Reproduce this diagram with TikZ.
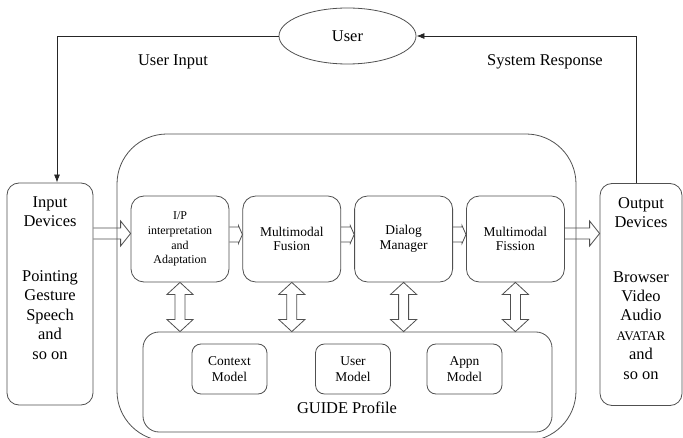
\documentclass[tikz,border=0pt]{standalone}
\usepackage{fontspec}
\setmainfont{Liberation Serif}
\newfontfamily\timesfont{Liberation Serif}
\usetikzlibrary{shapes.geometric,arrows.meta,calc,positioning}

\definecolor{linegray}{RGB}{80,80,80}

\tikzset{
  devbox/.style={draw=linegray, line width=0.8bp, rounded corners=12bp,
    minimum width=86bp, minimum height=222bp},
  devtext/.style={align=center, inner sep=0pt, font=\timesfont\fontsize{16.5}{19.5}\selectfont},
  procbox/.style={draw=linegray, line width=0.8bp, rounded corners=13bp,
    minimum width=98bp, minimum height=86bp, align=center,
    font=\timesfont\fontsize{13.5}{14.5}\selectfont},
  modelbox/.style={draw=linegray, line width=0.8bp, rounded corners=9bp,
    minimum width=75bp, minimum height=50bp, align=center,
    font=\timesfont\fontsize{13.5}{16}\selectfont},
  blockarrow/.style={draw=linegray, line width=0.8bp},
  feedback/.style={draw=black!85, line width=0.8bp, -{Latex[length=8bp,width=6bp]}},
  bigtext/.style={font=\timesfont\fontsize{16.5}{19.5}\selectfont}
}

% hollow arrow to the right: start, tip, shaft half width, head half width, head length
\newcommand{\rightblock}[5]{%
  \draw[blockarrow] let \p1=(#1), \p2=(#2) in
    (\x1,\y2+#3) -- (\x2-#5,\y2+#3) -- (\x2-#5,\y2+#4) -- (\x2,\y2)
    -- (\x2-#5,\y2-#4) -- (\x2-#5,\y2-#3) -- (\x1,\y2-#3);}

% hollow double arrow from box #1 down to box #2
\newcommand{\updownblock}[2]{%
  \draw[blockarrow] let \p1=(#1.south), \p2=(#1.south |- #2.north) in
    (\x1,\y1) -- (\x1+13bp,\y1-12bp) -- (\x1+5bp,\y1-12bp) -- (\x1+5bp,\y2+12bp)
    -- (\x1+13bp,\y2+12bp) -- (\x1,\y2) -- (\x1-13bp,\y2+12bp) -- (\x1-5bp,\y2+12bp)
    -- (\x1-5bp,\y1-12bp) -- (\x1-13bp,\y1-12bp) -- cycle;}

\begin{document}
\begin{tikzpicture}[x=1bp,y=-1bp]
\clip (0,0) rectangle (683,438);

% user and the loop
\node[ellipse, draw=linegray, line width=0.8bp, minimum width=137bp, minimum height=56bp, bigtext] (user) at (347.5,36) {User};
\node[bigtext] (inlabel) at (173,62) {User Input};
\node[bigtext] (outlabel) at (545,62) {System Response};

% devices
\node[devbox] (input) at (50,294) {};
\node[devtext, below=14bp of input.north] (inputtxt) {Input\\Devices\\[35bp]Pointing\\Gesture\\Speech\\and\\so on};
\node[devbox, minimum width=82bp] (output) at (641,294.5) {};
\node[devtext, below=14bp of output.north] (outputtxt) {Output\\Devices\\[35bp]Browser\\Video\\Audio\\{\fontsize{13.2}{19.5}\selectfont AVATAR}\\and\\so on};

\draw[feedback] (user.west) -| ($(input.north)+(7,0)$);
\draw[feedback] ($(output.north)+(-5,0)$) |- (user.east);

% GUIDE frame
\node[draw=linegray, line width=0.8bp, rounded corners=50bp, minimum width=459bp, minimum height=307bp] (guide) at (346.5,287.5) {};

\node[procbox, font=\timesfont\fontsize{12}{14.8}\selectfont] (ipbox) at (180,239) {I/P\\interpretation\\and\\Adaptation};
\node[procbox, right=13bp of ipbox] (fusion) {Multimodal\\Fusion};
\node[procbox, right=13bp of fusion] (dialog) {Dialog\\Manager};
\node[procbox, right=13bp of dialog] (fission) {Multimodal\\Fission};

% profile
\node[draw=linegray, line width=0.8bp, rounded corners=16bp, minimum width=409bp, minimum height=100bp] (profile) at (347.5,382) {};
\node[bigtext] (profiletxt) at (347,408) {GUIDE Profile};
\node[modelbox] (ctxmodel) at (229.5,369) {Context\\Model};
\node[modelbox] (usermodel) at (353,369) {User\\Model};
\node[modelbox] (appnmodel) at (464.5,369) {Appn\\Model};

% block arrows
\coordinate (intip) at ($(ipbox.west)+(0,-5.5)$);
\rightblock{input.east |- intip}{intip}{5.5bp}{12.5bp}{10bp}
\rightblock{fission.east |- intip}{output.west |- intip}{5.5bp}{12.5bp}{10bp}
\foreach \a/\b in {ipbox/fusion,fusion/dialog,dialog/fission}
  {\rightblock{\a.east}{$(\b.west)+(0,-4.5)$}{7.5bp}{9bp}{4bp}}
\foreach \b in {ipbox,fusion,dialog,fission}
  {\updownblock{\b}{profile}}
\end{tikzpicture}
\end{document}
